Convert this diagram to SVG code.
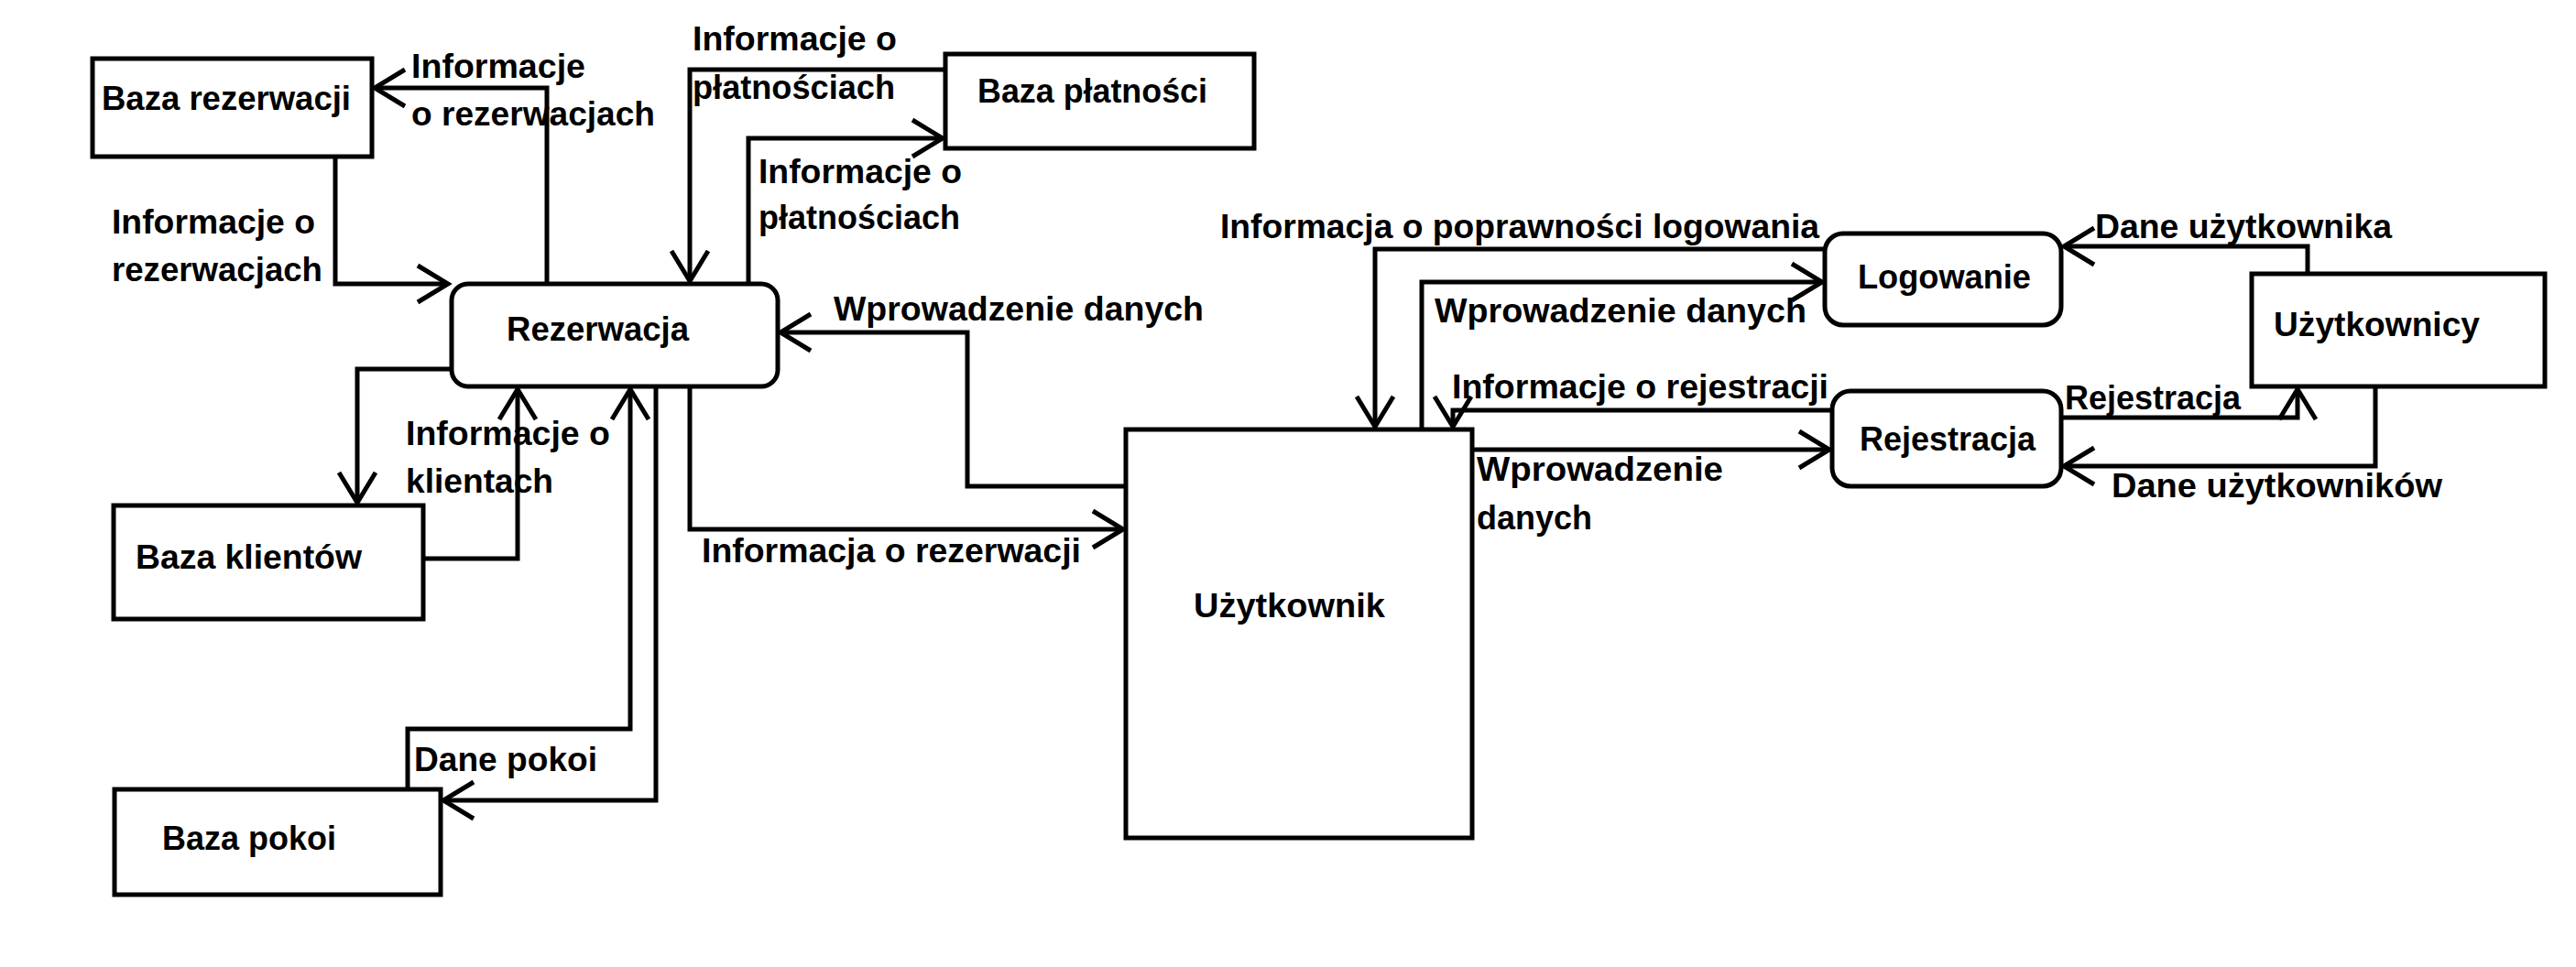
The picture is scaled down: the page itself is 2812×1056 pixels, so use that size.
<svg xmlns="http://www.w3.org/2000/svg" width="2812" height="1056" viewBox="0 0 2812 1056">
<style>
.box{fill:#fff;stroke:#000;stroke-width:5}
.t{font-family:"Liberation Sans",Arial,sans-serif;font-weight:bold;font-size:37px;fill:#000}
.c{fill:none;stroke:#000;stroke-width:5;stroke-linejoin:miter;marker-end:url(#arr)}
</style>
<defs>
<marker id="arr" markerUnits="userSpaceOnUse" markerWidth="44" markerHeight="48" refX="38" refY="24" orient="auto" viewBox="0 0 44 48">
<path d="M5,4 L38,24 L5,44" fill="none" stroke="#000" stroke-width="5"/>
</marker>
</defs>
<rect width="2812" height="1056" fill="#fff"/>
<g id="connectors">
<path class="c" d="M366,172 V310 H489"/>
<path class="c" d="M597,310 V96 H409"/>
<path class="c" d="M1032,76 H753 V307"/>
<path class="c" d="M817,310 V151 H1029"/>
<path class="c" d="M1229,531 H1056 V363 H852"/>
<path class="c" d="M753,422 V578 H1226"/>
<path class="c" d="M493,403 H390 V549"/>
<path class="c" d="M462,610 H565 V425"/>
<path class="c" d="M445,862 V796 H688 V425"/>
<path class="c" d="M716,422 V874 H484"/>
<path class="c" d="M1992,272 H1501 V466"/>
<path class="c" d="M1552,469 V308 H1989"/>
<path class="c" d="M2000,448 H1586 V466"/>
<path class="c" d="M1607,491 H1997"/>
<path class="c" d="M2519,299 V269 H2253"/>
<path class="c" d="M2250,456 H2508 V425"/>
<path class="c" d="M2593,422 V509 H2253"/>
</g>
<g id="baza-rezerwacji"><rect class="box" x="101" y="64" width="305" height="107"/><text class="t" x="111" y="120" textLength="272" lengthAdjust="spacingAndGlyphs">Baza rezerwacji</text></g>
<g id="baza-platnosci"><rect class="box" x="1032" y="59" width="337" height="103"/><text class="t" x="1067" y="112" textLength="251" lengthAdjust="spacingAndGlyphs">Baza płatności</text></g>
<g id="rezerwacja"><rect class="box" x="493" y="310" width="356" height="112" rx="18"/><text class="t" x="553" y="372" textLength="199" lengthAdjust="spacingAndGlyphs">Rezerwacja</text></g>
<g id="baza-klientow"><rect class="box" x="124" y="552" width="338" height="124"/><text class="t" x="148" y="621" textLength="247" lengthAdjust="spacingAndGlyphs">Baza klientów</text></g>
<g id="baza-pokoi"><rect class="box" x="125" y="862" width="356" height="115"/><text class="t" x="177" y="928" textLength="190" lengthAdjust="spacingAndGlyphs">Baza pokoi</text></g>
<g id="uzytkownik"><rect class="box" x="1229" y="469" width="378" height="446"/><text class="t" x="1303" y="674" textLength="209" lengthAdjust="spacingAndGlyphs">Użytkownik</text></g>
<g id="logowanie"><rect class="box" x="1992" y="255" width="258" height="100" rx="20"/><text class="t" x="2028" y="315" textLength="189" lengthAdjust="spacingAndGlyphs">Logowanie</text></g>
<g id="rejestracja"><rect class="box" x="2000" y="427" width="250" height="104" rx="20"/><text class="t" x="2030" y="492" textLength="192" lengthAdjust="spacingAndGlyphs">Rejestracja</text></g>
<g id="uzytkownicy"><rect class="box" x="2458" y="299" width="320" height="123"/><text class="t" x="2482" y="367" textLength="225" lengthAdjust="spacingAndGlyphs">Użytkownicy</text></g>
<g id="labels">
<text class="t" x="449" y="85" textLength="190" lengthAdjust="spacingAndGlyphs">Informacje</text>
<text class="t" x="449" y="137" textLength="266" lengthAdjust="spacingAndGlyphs">o rezerwacjach</text>
<text class="t" x="122" y="255" textLength="222" lengthAdjust="spacingAndGlyphs">Informacje o</text>
<text class="t" x="122" y="307" textLength="230" lengthAdjust="spacingAndGlyphs">rezerwacjach</text>
<text class="t" x="756" y="55" textLength="223" lengthAdjust="spacingAndGlyphs">Informacje o</text>
<text class="t" x="756" y="108" textLength="221" lengthAdjust="spacingAndGlyphs">płatnościach</text>
<text class="t" x="828" y="200" textLength="222" lengthAdjust="spacingAndGlyphs">Informacje o</text>
<text class="t" x="828" y="250" textLength="220" lengthAdjust="spacingAndGlyphs">płatnościach</text>
<text class="t" x="910" y="350" textLength="404" lengthAdjust="spacingAndGlyphs">Wprowadzenie danych</text>
<text class="t" x="443" y="486" textLength="223" lengthAdjust="spacingAndGlyphs">Informacje o</text>
<text class="t" x="443" y="538" textLength="161" lengthAdjust="spacingAndGlyphs">klientach</text>
<text class="t" x="452" y="842" textLength="200" lengthAdjust="spacingAndGlyphs">Dane pokoi</text>
<text class="t" x="766" y="614" textLength="414" lengthAdjust="spacingAndGlyphs">Informacja o rezerwacji</text>
<text class="t" x="1332" y="260" textLength="654" lengthAdjust="spacingAndGlyphs">Informacja o poprawności logowania</text>
<text class="t" x="1566" y="352" textLength="406" lengthAdjust="spacingAndGlyphs">Wprowadzenie danych</text>
<text class="t" x="1585" y="435" textLength="411" lengthAdjust="spacingAndGlyphs">Informacje o rejestracji</text>
<text class="t" x="1612" y="525" textLength="269" lengthAdjust="spacingAndGlyphs">Wprowadzenie</text>
<text class="t" x="1612" y="578" textLength="126" lengthAdjust="spacingAndGlyphs">danych</text>
<text class="t" x="2287" y="260" textLength="324" lengthAdjust="spacingAndGlyphs">Dane użytkownika</text>
<text class="t" x="2254" y="447" textLength="192" lengthAdjust="spacingAndGlyphs">Rejestracja</text>
<text class="t" x="2305" y="543" textLength="361" lengthAdjust="spacingAndGlyphs">Dane użytkowników</text>
</g>
</svg>
